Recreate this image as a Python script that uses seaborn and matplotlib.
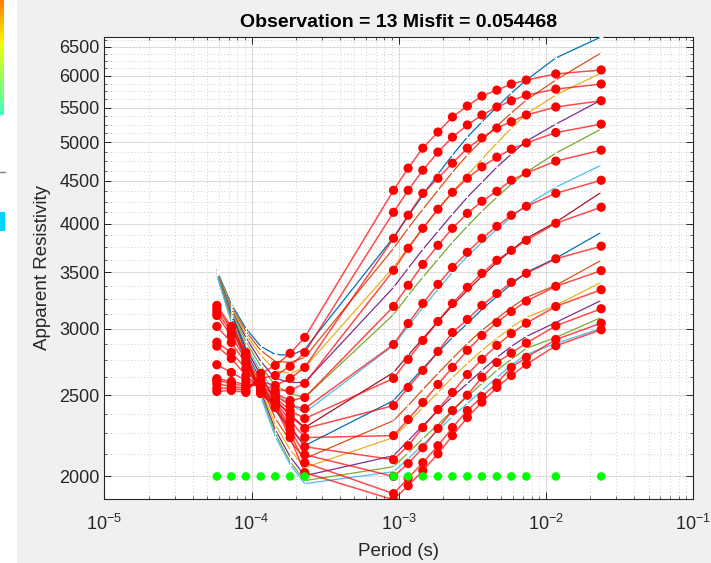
import numpy as np
import pandas as pd
import matplotlib
matplotlib.use("Agg")
import matplotlib.pyplot as plt
import seaborn as sns
from matplotlib.ticker import FixedLocator, FixedFormatter, NullFormatter, LogLocator
from matplotlib.patches import Rectangle
from matplotlib.lines import Line2D

# ---------------- data ----------------
periods = [5.81e-5, 7.29e-5, 9.15e-5, 1.156e-4, 1.45e-4, 1.83e-4, 2.30e-4,
           9.23e-4, 1.16e-3, 1.46e-3, 1.85e-3, 2.32e-3, 2.93e-3, 3.68e-3,
           4.65e-3, 5.83e-3, 7.38e-3, 1.17e-2, 2.38e-2]

data_01 = [2525, 2532, 2518, 2653, 2712, 2803, 2928, 4384, 4658, 4921, 5143, 5360, 5524, 5677, 5770, 5867, 5932, 6032, 6098]
data_02 = [2548, 2546, 2532, 2617, 2638, 2705, 2810, 4127, 4384, 4632, 4868, 5072, 5244, 5390, 5509, 5604, 5692, 5786, 5867]
data_03 = [2579, 2560, 2546, 2595, 2567, 2617, 2697, 3843, 4094, 4348, 4531, 4722, 4921, 5062, 5200, 5291, 5390, 5509, 5604]
data_04 = [2602, 2581, 2560, 2581, 2532, 2532, 2581, 3520, 3739, 3950, 4162, 4360, 4531, 4675, 4801, 4907, 4992, 5136, 5256]
data_05 = [2615, 2595, 2574, 2567, 2511, 2463, 2483, 3188, 3378, 3578, 3770, 3950, 4115, 4254, 4372, 4506, 4597, 4749, 4894]
data_06 = [2717, 2660, 2602, 2560, 2497, 2429, 2409, 2872, 3042, 3214, 3387, 3548, 3698, 3843, 3971, 4094, 4196, 4348, 4506]
data_07 = [2859, 2764, 2638, 2546, 2483, 2396, 2344, 2617, 2757, 2904, 3059, 3214, 3359, 3491, 3618, 3718, 3822, 4005, 4185]
data_08 = [2890, 2810, 2690, 2539, 2470, 2364, 2281, 2429, 2553, 2675, 2818, 2968, 3076, 3197, 3303, 3406, 3491, 3633, 3761]
data_09 = [3018, 2888, 2727, 2532, 2456, 2331, 2225, 2237, 2338, 2450, 2574, 2697, 2826, 2944, 3051, 3144, 3235, 3369, 3517]
data_10 = [3110, 2944, 2749, 2525, 2443, 2299, 2170, 2094, 2176, 2287, 2403, 2518, 2645, 2758, 2865, 2960, 3045, 3188, 3338]
data_11 = [3138, 2977, 2780, 2518, 2436, 2274, 2123, 2000, 2072, 2164, 2281, 2396, 2499, 2626, 2734, 2805, 2883, 3023, 3168]
data_12 = [3170, 3001, 2795, 2511, 2429, 2250, 2077, 1908, 1990, 2077, 2176, 2287, 2396, 2490, 2583, 2697, 2772, 2912, 3045]
data_13 = [3197, 3018, 2810, 2511, 2416, 2225, 2021, 1876, 1950, 2032, 2128, 2237, 2351, 2452, 2553, 2638, 2720, 2862, 2991]

model_01 = [3520, 3206, 3002, 2857, 2795, 2788, 2834, 3854, 4083, 4325, 4582, 4828, 5073, 5287, 5509, 5723, 5932, 6302, 6677]
model_02 = [3510, 3188, 2977, 2826, 2742, 2734, 2772, 3739, 3950, 4162, 4384, 4607, 4828, 5030, 5229, 5420, 5615, 5932, 6391]
model_03 = [3510, 3179, 2953, 2788, 2675, 2653, 2697, 3549, 3749, 3950, 4162, 4360, 4569, 4775, 4989, 5200, 5405, 5692, 6048]
model_04 = [3501, 3162, 2928, 2742, 2617, 2588, 2588, 3359, 3540, 3728, 3917, 4105, 4301, 4481, 4671, 4841, 5016, 5256, 5615]
model_05 = [3501, 3153, 2896, 2705, 2567, 2511, 2483, 3118, 3286, 3454, 3628, 3801, 3972, 4139, 4301, 4457, 4607, 4854, 5186]
model_06 = [3491, 3136, 2865, 2668, 2511, 2436, 2383, 2865, 3018, 3179, 3340, 3501, 3658, 3801, 3939, 4072, 4208, 4421, 4697]
model_07 = [3491, 3127, 2842, 2638, 2463, 2370, 2287, 2660, 2788, 2920, 3059, 3197, 3331, 3463, 3598, 3718, 3843, 4016, 4360]
model_08 = [3520, 3118, 2818, 2602, 2396, 2281, 2176, 2463, 2574, 2690, 2810, 2928, 3042, 3162, 3277, 3387, 3501, 3638, 3906]
model_09 = [3510, 3102, 2795, 2574, 2344, 2206, 2100, 2331, 2429, 2539, 2653, 2764, 2880, 2985, 3084, 3179, 3268, 3378, 3618]
model_10 = [3501, 3093, 2772, 2546, 2306, 2152, 2049, 2225, 2318, 2416, 2518, 2624, 2727, 2826, 2920, 3010, 3093, 3197, 3406]
model_11 = [3491, 3085, 2749, 2525, 2274, 2111, 2004, 2117, 2206, 2299, 2396, 2490, 2581, 2675, 2772, 2857, 2936, 3051, 3241]
model_12 = [3482, 3068, 2727, 2504, 2250, 2082, 1977, 2054, 2134, 2218, 2306, 2396, 2490, 2581, 2675, 2757, 2842, 2928, 3093]
model_13 = [3472, 3051, 2712, 2490, 2231, 2066, 1961, 2026, 2100, 2182, 2268, 2357, 2443, 2532, 2624, 2712, 2795, 2880, 3002]

observed_series = [data_01, data_02, data_03, data_04, data_05, data_06, data_07,
                   data_08, data_09, data_10, data_11, data_12, data_13]
model_series = [model_01, model_02, model_03, model_04, model_05, model_06, model_07,
                model_08, model_09, model_10, model_11, model_12, model_13]
marker_level = [2000] * len(periods)

y_ticks = [2000, 2500, 3000, 3500, 4000, 4500, 5000, 5500, 6000, 6500]
y_tick_labels = [str(v) for v in y_ticks]
title_text = "Observation = 13 Misfit = 0.054468"

# ---------------- tables ----------------
rows_d, rows_m = [], []
for i, (d, m) in enumerate(zip(observed_series, model_series)):
    for p, dv, mv in zip(periods, d, m):
        rows_d.append({"obs": i, "period": p, "rho": dv})
        rows_m.append({"obs": i, "period": p, "rho": mv})
df_d = pd.DataFrame(rows_d)
df_m = pd.DataFrame(rows_m)
df_g = pd.DataFrame({"period": periods, "rho": marker_level})

matlab = ["#0072BD", "#D95319", "#EDB120", "#7E2F8E", "#77AC30", "#4DBEEE", "#A2142F"]
palette = [matlab[i % 7] for i in range(len(model_series))]

# ---------------- figure ----------------
plt.rcParams["font.family"] = ["Liberation Sans", "DejaVu Sans"]
plt.rcParams["mathtext.fontset"] = "custom"
plt.rcParams["mathtext.rm"] = "Liberation Sans"
plt.rcParams["mathtext.it"] = "Liberation Sans"

fig = plt.figure(figsize=(7.11, 5.63), dpi=100)
fig.patch.set_facecolor("white")
fig.add_artist(Rectangle((17 / 711, 0), 1, 1, transform=fig.transFigure,
                         facecolor="#F0F0F0", edgecolor="none", zorder=-10))

# small cropped colorbar remnants on the far left
cax = fig.add_axes([0, 1 - 115 / 563, 4 / 711, 115 / 563])
grad = np.linspace(0.78, 0.42, 100).reshape(-1, 1)
cax.imshow(grad, aspect="auto", cmap="jet", vmin=0, vmax=1)
cax.axis("off")
fig.add_artist(Line2D([0, 5 / 711], [1 - 172 / 563] * 2, transform=fig.transFigure,
                      color="#808080", linewidth=1))
fig.add_artist(Rectangle((0, 1 - 231 / 563), 5 / 711, 19 / 563, transform=fig.transFigure,
                         facecolor="#00D4FF", edgecolor="none"))

ax = fig.add_axes([104.4 / 711, 1 - 499 / 563, 588.5 / 711, 462 / 563])
ax.set_facecolor("white")

sns.lineplot(data=df_m, x="period", y="rho", hue="obs", palette=palette,
             units="obs", estimator=None, sort=False, legend=False, ax=ax,
             linewidth=0.9, marker="+", markersize=3, markeredgewidth=0.7, zorder=3)
sns.lineplot(data=df_d, x="period", y="rho", units="obs", estimator=None, sort=False,
             color="red", alpha=0.7, linewidth=1.1, legend=False, ax=ax, zorder=4)
sns.scatterplot(data=df_d, x="period", y="rho", color="red", s=44, edgecolor="none",
                legend=False, ax=ax, zorder=5)
sns.scatterplot(data=df_g, x="period", y="rho", color="#00FF00", s=38, edgecolor="none",
                legend=False, ax=ax, zorder=5)

ax.set_xscale("log")
ax.set_yscale("log")
ax.set_xlim(1e-5, 1e-1)
ax.set_ylim(1880, 6675)

ax.yaxis.set_major_locator(FixedLocator(y_ticks))
ax.yaxis.set_major_formatter(FixedFormatter(y_tick_labels))
minor_y = [v for v in range(2125, 6675, 125) if v % 500 != 0]
ax.yaxis.set_minor_locator(FixedLocator(minor_y))
ax.yaxis.set_minor_formatter(NullFormatter())
ax.xaxis.set_major_locator(LogLocator(base=10, numticks=10))
ax.xaxis.set_minor_locator(LogLocator(base=10, subs=np.arange(2, 10), numticks=20))
ax.xaxis.set_minor_formatter(NullFormatter())

ax.set_axisbelow(True)
ax.grid(which="major", color="#DCDCDC", linewidth=0.8, linestyle="-")
ax.grid(which="minor", color="#BDBDBD", linewidth=0.6, linestyle=(0, (1, 3)))
ax.tick_params(which="both", direction="in", top=True, right=True,
               colors="#262626", labelcolor="#262626", labelsize=13)
ax.tick_params(which="major", length=5, width=0.7)
ax.tick_params(which="minor", length=2.5, width=0.5)
ax.tick_params(axis="x", pad=11)
for s in ax.spines.values():
    s.set_color("#262626")
    s.set_linewidth(0.8)

ax.set_title(title_text, fontsize=14, fontweight="bold", color="black", pad=7)
ax.set_xlabel("Period (s)", fontsize=13.5, color="#262626", labelpad=6)
ax.set_ylabel("Apparent Resistivity", fontsize=13.5, color="#262626", labelpad=6)

fig.savefig("out.png", dpi=100, facecolor=fig.get_facecolor())
